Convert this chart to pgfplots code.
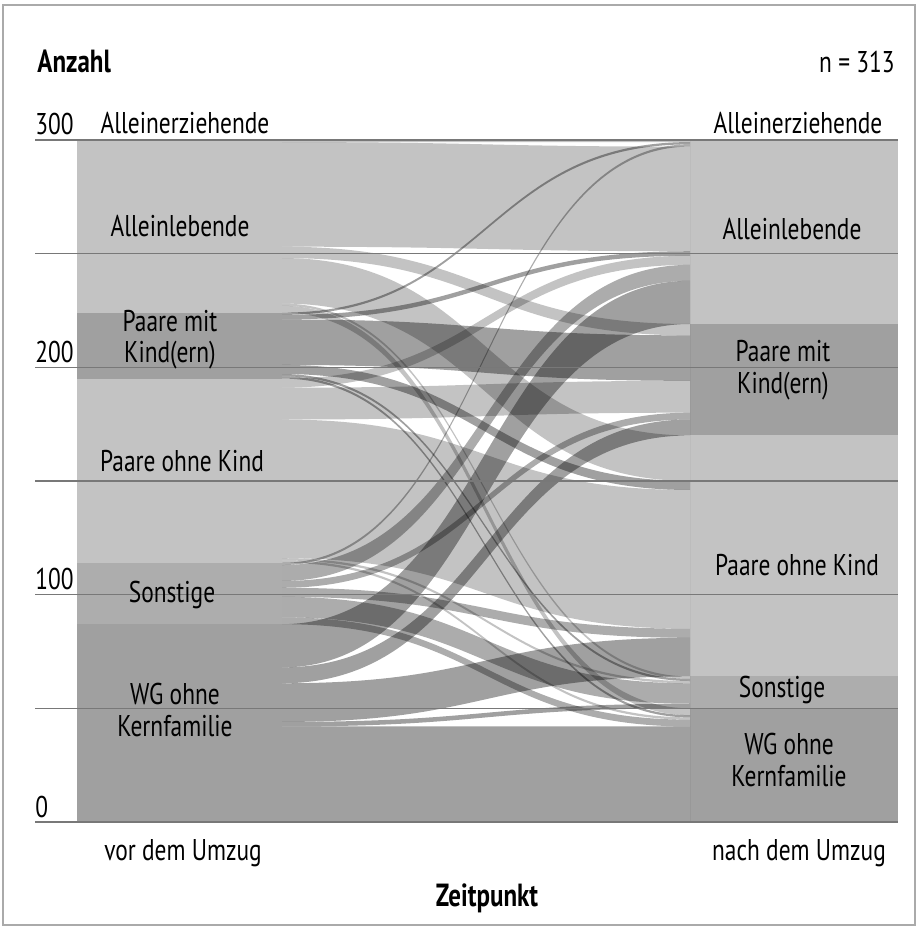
\documentclass[border=0pt]{standalone}
\usepackage{fontspec}
\setmainfont{PT Sans}[FakeStretch=0.78]
\usepackage{pgfplots}
\usepackage{pgfplotstable}
\pgfplotsset{compat=1.18}

\definecolor{lightc}{RGB}{195,195,195}
\definecolor{midc}{RGB}{173,173,173}
\definecolor{darkc}{RGB}{160,160,160}
\definecolor{gridc}{RGB}{120,120,120}
\definecolor{framec}{RGB}{170,170,170}

\newcommand\lab{\fontsize{15}{15}\selectfont}
\newcommand\ttl{\fontsize{16}{17}\selectfont\bfseries}

% flows: left interval (l0,l1) -> right interval (r0,r1), opacity by origin group
\pgfplotstableread{
l0  l1  r0  r1  a
0   42  0   42  0.373
42  44  50  52  0.373
44  61  64  81  0.373
61  68  170 177 0.373
68  87  219 238 0.373
87  90  42  45  0.325
90  99  52  61  0.325
99  103 81  85  0.325
103 106 177 180 0.325
106 113 238 245 0.325
113 114 297 298 0.325
114 115 45  46  0.235
115 116 61  62  0.235
116 177 85  146 0.235
177 191 180 194 0.235
191 195 245 249 0.235
195 196 46  47  0.373
196 197 62  63  0.373
197 201 146 150 0.373
201 221 194 214 0.373
221 223 249 251 0.373
223 224 298 299 0.373
224 227 47  50  0.235
227 228 63  64  0.235
228 248 150 170 0.235
248 253 214 219 0.235
253 299 251 297 0.235
299 300 299 300 0.235
}\flows

\newcommand\stratum[5]{\addplot[fill=#5, draw=none] coordinates {(#1,#3) (#2,#3) (#2,#4) (#1,#4)} -- cycle;}

\begin{document}
\begin{tikzpicture}
\useasboundingbox (-17.5pt,411pt) rectangle (441.5pt,-53pt);
\draw[framec, line width=0.8pt] (-16pt,408.5pt) rectangle (440pt,-51.5pt);

\begin{axis}[
  scale only axis, width=431.5pt, height=341.1pt,
  xmin=35, xmax=898, ymin=0, ymax=300,
  axis line style={draw=none},
  xtick=\empty, ytick={0,50,...,300}, yticklabels=\empty,
  major tick length=0pt,
  ymajorgrids, grid style={gridc, line width=0.7pt},
  axis on top, clip=false,
]
% left strata
\stratum{77}{282}{0}{87}{darkc}
\stratum{77}{282}{87}{114}{midc}
\stratum{77}{282}{114}{195}{lightc}
\stratum{77}{282}{195}{224}{darkc}
\stratum{77}{282}{224}{299}{lightc}
\stratum{77}{282}{299}{300}{lightc}
% right strata
\stratum{690}{898}{0}{50}{darkc}
\stratum{690}{898}{50}{64}{midc}
\stratum{690}{898}{64}{170}{lightc}
\stratum{690}{898}{170}{219}{darkc}
\stratum{690}{898}{219}{297}{lightc}
\stratum{690}{898}{297}{300}{lightc}

\pgfplotstablegetrowsof{\flows}
\pgfmathtruncatemacro{\nflows}{\pgfplotsretval-1}
\pgfplotsinvokeforeach{0,...,\nflows}{
  \pgfplotstablegetelem{#1}{l0}\of\flows \let\fla\pgfplotsretval
  \pgfplotstablegetelem{#1}{l1}\of\flows \let\flb\pgfplotsretval
  \pgfplotstablegetelem{#1}{r0}\of\flows \let\fra\pgfplotsretval
  \pgfplotstablegetelem{#1}{r1}\of\flows \let\frb\pgfplotsretval
  \pgfplotstablegetelem{#1}{a}\of\flows \let\fop\pgfplotsretval
  \edef\ribbon{\noexpand\fill[black, fill opacity=\fop]
    (axis cs:282,\fla) .. controls (axis cs:486,\fla) and (axis cs:486,\fra) .. (axis cs:690,\fra)
    -- (axis cs:690,\frb) .. controls (axis cs:486,\frb) and (axis cs:486,\flb) .. (axis cs:282,\flb) -- cycle;}
  \ribbon
}
\end{axis}

\begin{scope}[x=0.5pt, y=-0.5pt, shift={(-35,-822)}]
% titles
\node[anchor=base west, font=\ttl, inner sep=0] at (37,73) {Anzahl};
\node[anchor=base east, font=\lab, inner sep=0] at (895,73) {n = 313};
\node[anchor=base, font=\ttl, inner sep=0] at (487,906) {Zeitpunkt};
\node[anchor=base, font=\lab, inner sep=0] at (183,860) {vor dem Umzug};
\node[anchor=base, font=\lab, inner sep=0] at (799,860) {nach dem Umzug};
% y labels
\node[anchor=base west, font=\lab, inner sep=0] at (35,135) {300};
\node[anchor=base west, font=\lab, inner sep=0] at (35,363) {200};
\node[anchor=base west, font=\lab, inner sep=0] at (35,590) {100};
\node[anchor=base west, font=\lab, inner sep=0] at (35,817) {0};
% left stratum labels
\node[anchor=base, font=\lab, inner sep=0] at (185,134) {Alleinerziehende};
\node[anchor=base, font=\lab, inner sep=0] at (180,237) {Alleinlebende};
\node[anchor=base, font=\lab, inner sep=0] at (170,332) {Paare mit};
\node[anchor=base, font=\lab, inner sep=0] at (170,363) {Kind(ern)};
\node[anchor=base, font=\lab, inner sep=0] at (182,472) {Paare ohne Kind};
\node[anchor=base, font=\lab, inner sep=0] at (172,602) {Sonstige};
\node[anchor=base, font=\lab, inner sep=0] at (175,704) {WG ohne};
\node[anchor=base, font=\lab, inner sep=0] at (175,736) {Kernfamilie};
% right stratum labels
\node[anchor=base, font=\lab, inner sep=0] at (798,134) {Alleinerziehende};
\node[anchor=base, font=\lab, inner sep=0] at (792,240) {Alleinlebende};
\node[anchor=base, font=\lab, inner sep=0] at (783,362) {Paare mit};
\node[anchor=base, font=\lab, inner sep=0] at (783,394) {Kind(ern)};
\node[anchor=base, font=\lab, inner sep=0] at (797,576) {Paare ohne Kind};
\node[anchor=base, font=\lab, inner sep=0] at (782,697) {Sonstige};
\node[anchor=base, font=\lab, inner sep=0] at (789,754) {WG ohne};
\node[anchor=base, font=\lab, inner sep=0] at (789,786) {Kernfamilie};
\end{scope}
\end{tikzpicture}
\end{document}
